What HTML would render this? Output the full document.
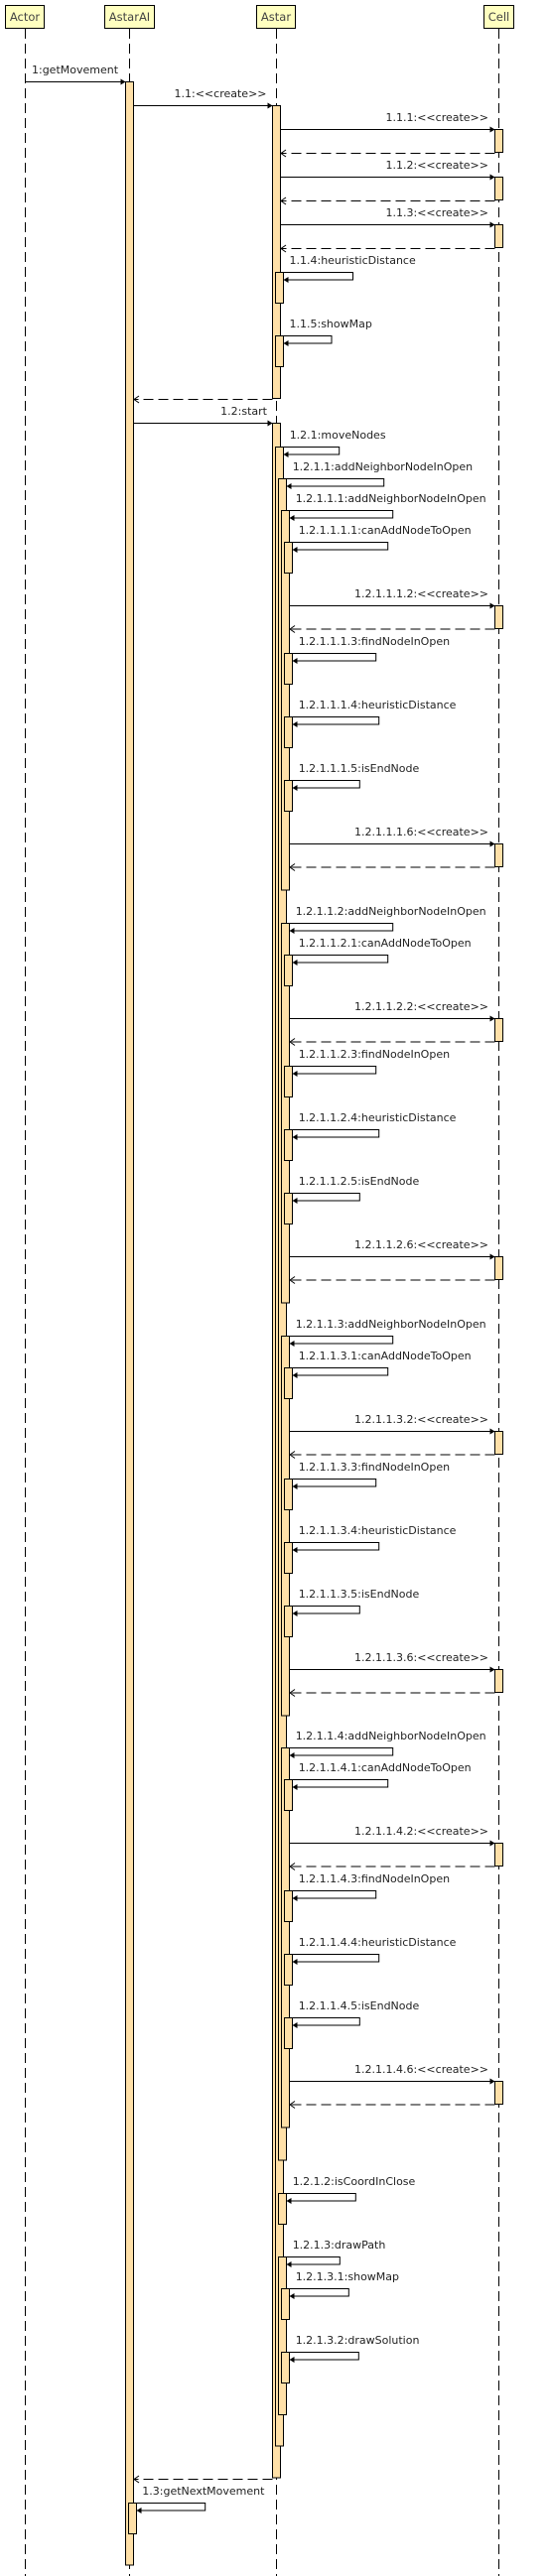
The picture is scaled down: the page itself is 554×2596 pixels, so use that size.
<!DOCTYPE html>
<html><head><meta charset="utf-8"><style>
html,body{margin:0;padding:0;background:#fff;}
svg{display:block;}
text{font-family:"DejaVu Sans","Liberation Sans",sans-serif;font-size:11px;fill:#222;}
.h{fill:#444;font-size:11.5px;}
.box{fill:#ffffc0;stroke:#000;stroke-width:1;}
.act{fill:#ffe0a8;stroke:#000;stroke-width:1;}
.ll{stroke:#000;stroke-width:1;stroke-dasharray:10,5;fill:none;}
.m{stroke:#000;stroke-width:1;fill:none;}
.r{stroke:#000;stroke-width:1;fill:none;stroke-dasharray:10,5;}
.ah{fill:#000;}
.oh{stroke:#000;fill:none;stroke-width:1;}
</style></head><body>
<svg width="554" height="2596" viewBox="0 0 554 2596" xmlns="http://www.w3.org/2000/svg">
<!-- headers -->
<rect class="box" x="5.5" y="5.5" width="39" height="23"/><text class="h" x="25" y="21" text-anchor="middle">Actor</text>
<rect class="box" x="105.5" y="5.5" width="50" height="23"/><text class="h" x="130.5" y="21" text-anchor="middle">AstarAI</text>
<rect class="box" x="258.5" y="5.5" width="39" height="23"/><text class="h" x="278" y="21" text-anchor="middle">Astar</text>
<rect class="box" x="487.5" y="5.5" width="30" height="23"/><text class="h" x="502.5" y="21" text-anchor="middle">Cell</text>
<!-- lifelines -->
<line class="ll" x1="25.5" y1="29" x2="25.5" y2="2596"/>
<line class="ll" x1="130.5" y1="29" x2="130.5" y2="2596"/>
<line class="ll" x1="278.5" y1="29" x2="278.5" y2="2596"/>
<line class="ll" x1="502.5" y1="29" x2="502.5" y2="2596"/>

<!-- activations -->
<rect class="act" x="126.5" y="82.5" width="8" height="2502.5"/>
<rect class="act" x="129.5" y="2522.5" width="8" height="31"/>
<rect class="act" x="274.5" y="106.5" width="8" height="295"/>
<rect class="act" x="277.5" y="274.5" width="8" height="31"/>
<rect class="act" x="277.5" y="338.5" width="8" height="31"/>
<rect class="act" x="498.5" y="130.5" width="8" height="23"/>
<rect class="act" x="498.5" y="178.5" width="8" height="23"/>
<rect class="act" x="498.5" y="226.5" width="8" height="23"/>
<rect class="act" x="274.5" y="426.5" width="8" height="2070.5"/>
<rect class="act" x="277.5" y="450.5" width="8" height="2014.5"/>
<rect class="act" x="280.5" y="482.5" width="8" height="1694.5"/>
<!-- block 1 -->
<rect class="act" x="283.5" y="514.5" width="8" height="382.5"/>
<rect class="act" x="286.5" y="546.5" width="8" height="31"/>
<rect class="act" x="498.5" y="610.5" width="8" height="23"/>
<rect class="act" x="286.5" y="658.5" width="8" height="31"/>
<rect class="act" x="286.5" y="722.5" width="8" height="31"/>
<rect class="act" x="286.5" y="786.5" width="8" height="31"/>
<rect class="act" x="498.5" y="850.5" width="8" height="23"/>
<!-- block 2 -->
<rect class="act" x="283.5" y="930.5" width="8" height="382.5"/>
<rect class="act" x="286.5" y="962.5" width="8" height="31"/>
<rect class="act" x="498.5" y="1026.5" width="8" height="23"/>
<rect class="act" x="286.5" y="1074.5" width="8" height="31"/>
<rect class="act" x="286.5" y="1138.5" width="8" height="31"/>
<rect class="act" x="286.5" y="1202.5" width="8" height="31"/>
<rect class="act" x="498.5" y="1266.5" width="8" height="23"/>
<!-- block 3 -->
<rect class="act" x="283.5" y="1346.5" width="8" height="382.5"/>
<rect class="act" x="286.5" y="1378.5" width="8" height="31"/>
<rect class="act" x="498.5" y="1442.5" width="8" height="23"/>
<rect class="act" x="286.5" y="1490.5" width="8" height="31"/>
<rect class="act" x="286.5" y="1554.5" width="8" height="31"/>
<rect class="act" x="286.5" y="1618.5" width="8" height="31"/>
<rect class="act" x="498.5" y="1682.5" width="8" height="23"/>
<!-- block 4 -->
<rect class="act" x="283.5" y="1761.5" width="8" height="382.5"/>
<rect class="act" x="286.5" y="1793.5" width="8" height="31"/>
<rect class="act" x="498.5" y="1857.5" width="8" height="23"/>
<rect class="act" x="286.5" y="1905.5" width="8" height="31"/>
<rect class="act" x="286.5" y="1969.5" width="8" height="31"/>
<rect class="act" x="286.5" y="2033.5" width="8" height="31"/>
<rect class="act" x="498.5" y="2097.5" width="8" height="23"/>
<!-- tail -->
<rect class="act" x="280.5" y="2210.5" width="8" height="31"/>
<rect class="act" x="280.5" y="2274.5" width="8" height="159"/>
<rect class="act" x="283.5" y="2306.5" width="8" height="31"/>
<rect class="act" x="283.5" y="2370.5" width="8" height="31"/>

<!-- messages -->
<line class="m" x1="25.5" y1="82.5" x2="126.5" y2="82.5"/><polygon class="ah" points="126.5,82.5 121.5,79.5 121.5,85.5"/>
<text x="32" y="74">1:getMovement</text>
<line class="m" x1="134.5" y1="106.5" x2="274.5" y2="106.5"/><polygon class="ah" points="274.5,106.5 269.5,103.5 269.5,109.5"/>
<text x="268.5" y="98" text-anchor="end">1.1:&lt;&lt;create&gt;&gt;</text>

<g>
<line class="m" x1="282.5" y1="130.5" x2="498.5" y2="130.5"/><polygon class="ah" points="498.5,130.5 493.5,127.5 493.5,133.5"/>
<text x="492" y="122" text-anchor="end">1.1.1:&lt;&lt;create&gt;&gt;</text>
<line class="r" x1="498.5" y1="154.5" x2="283" y2="154.5"/><polyline class="oh" points="288,151 283,154.5 288,158"/>
<line class="m" x1="282.5" y1="178.5" x2="498.5" y2="178.5"/><polygon class="ah" points="498.5,178.5 493.5,175.5 493.5,181.5"/>
<text x="492" y="170" text-anchor="end">1.1.2:&lt;&lt;create&gt;&gt;</text>
<line class="r" x1="498.5" y1="202.5" x2="283" y2="202.5"/><polyline class="oh" points="288,199 283,202.5 288,206"/>
<line class="m" x1="282.5" y1="226.5" x2="498.5" y2="226.5"/><polygon class="ah" points="498.5,226.5 493.5,223.5 493.5,229.5"/>
<text x="492" y="218" text-anchor="end">1.1.3:&lt;&lt;create&gt;&gt;</text>
<line class="r" x1="498.5" y1="250.5" x2="283" y2="250.5"/><polyline class="oh" points="288,247 283,250.5 288,254"/>
</g>

<polyline class="m" points="282.5,274.5 355.5,274.5 355.5,282 285.5,282"/><polygon class="ah" points="285.5,282 290.5,279 290.5,285"/>
<text x="291.5" y="266">1.1.4:heuristicDistance</text>
<polyline class="m" points="282.5,338.5 334,338.5 334,346 285.5,346"/><polygon class="ah" points="285.5,346 290.5,343 290.5,349"/>
<text x="291.5" y="330">1.1.5:showMap</text>

<line class="r" x1="274.5" y1="402.5" x2="135" y2="402.5"/><polyline class="oh" points="140,399 135,402.5 140,406"/>
<line class="m" x1="134.5" y1="426.5" x2="274.5" y2="426.5"/><polygon class="ah" points="274.5,426.5 269.5,423.5 269.5,429.5"/>
<text x="269" y="418" text-anchor="end">1.2:start</text>

<polyline class="m" points="282.5,450.5 341.7,450.5 341.7,458 285.5,458"/><polygon class="ah" points="285.5,458 290.5,455 290.5,461"/>
<text x="291.7" y="442">1.2.1:moveNodes</text>
<polyline class="m" points="285.5,482.5 386.7,482.5 386.7,490 288.5,490"/><polygon class="ah" points="288.5,490 293.5,487 293.5,493"/>
<text x="294.7" y="474">1.2.1.1:addNeighborNodeInOpen</text>

<!-- block 1 T=514.5 -->
<g>
<polyline class="m" points="288.5,514.5 395.7,514.5 395.7,522 291.5,522"/><polygon class="ah" points="291.5,522 296.5,519 296.5,525"/>
<text x="297.7" y="506">1.2.1.1.1:addNeighborNodeInOpen</text>
<polyline class="m" points="291.5,546.5 390.7,546.5 390.7,554 294.5,554"/><polygon class="ah" points="294.5,554 299.5,551 299.5,557"/>
<text x="300.7" y="538">1.2.1.1.1.1:canAddNodeToOpen</text>
<line class="m" x1="291.5" y1="610.5" x2="498.5" y2="610.5"/><polygon class="ah" points="498.5,610.5 493.5,607.5 493.5,613.5"/>
<text x="492" y="602" text-anchor="end">1.2.1.1.1.2:&lt;&lt;create&gt;&gt;</text>
<line class="r" x1="498.5" y1="634" x2="292" y2="634"/><polyline class="oh" points="297,630.5 292,634 297,637.5"/>
<polyline class="m" points="291.5,658.5 378.7,658.5 378.7,666 294.5,666"/><polygon class="ah" points="294.5,666 299.5,663 299.5,669"/>
<text x="300.7" y="650">1.2.1.1.1.3:findNodeInOpen</text>
<polyline class="m" points="291.5,722.5 381.7,722.5 381.7,730 294.5,730"/><polygon class="ah" points="294.5,730 299.5,727 299.5,733"/>
<text x="300.7" y="714">1.2.1.1.1.4:heuristicDistance</text>
<polyline class="m" points="291.5,786.5 362.3,786.5 362.3,794 294.5,794"/><polygon class="ah" points="294.5,794 299.5,791 299.5,797"/>
<text x="300.7" y="778">1.2.1.1.1.5:isEndNode</text>
<line class="m" x1="291.5" y1="850.5" x2="498.5" y2="850.5"/><polygon class="ah" points="498.5,850.5 493.5,847.5 493.5,853.5"/>
<text x="492" y="842" text-anchor="end">1.2.1.1.1.6:&lt;&lt;create&gt;&gt;</text>
<line class="r" x1="498.5" y1="874" x2="292" y2="874"/><polyline class="oh" points="297,870.5 292,874 297,877.5"/>
</g>

<!-- block 2 T=930.5 -->
<g transform="translate(0,416)">
<polyline class="m" points="288.5,514.5 395.7,514.5 395.7,522 291.5,522"/><polygon class="ah" points="291.5,522 296.5,519 296.5,525"/>
<text x="297.7" y="506">1.2.1.1.2:addNeighborNodeInOpen</text>
<polyline class="m" points="291.5,546.5 390.7,546.5 390.7,554 294.5,554"/><polygon class="ah" points="294.5,554 299.5,551 299.5,557"/>
<text x="300.7" y="538">1.2.1.1.2.1:canAddNodeToOpen</text>
<line class="m" x1="291.5" y1="610.5" x2="498.5" y2="610.5"/><polygon class="ah" points="498.5,610.5 493.5,607.5 493.5,613.5"/>
<text x="492" y="602" text-anchor="end">1.2.1.1.2.2:&lt;&lt;create&gt;&gt;</text>
<line class="r" x1="498.5" y1="634" x2="292" y2="634"/><polyline class="oh" points="297,630.5 292,634 297,637.5"/>
<polyline class="m" points="291.5,658.5 378.7,658.5 378.7,666 294.5,666"/><polygon class="ah" points="294.5,666 299.5,663 299.5,669"/>
<text x="300.7" y="650">1.2.1.1.2.3:findNodeInOpen</text>
<polyline class="m" points="291.5,722.5 381.7,722.5 381.7,730 294.5,730"/><polygon class="ah" points="294.5,730 299.5,727 299.5,733"/>
<text x="300.7" y="714">1.2.1.1.2.4:heuristicDistance</text>
<polyline class="m" points="291.5,786.5 362.3,786.5 362.3,794 294.5,794"/><polygon class="ah" points="294.5,794 299.5,791 299.5,797"/>
<text x="300.7" y="778">1.2.1.1.2.5:isEndNode</text>
<line class="m" x1="291.5" y1="850.5" x2="498.5" y2="850.5"/><polygon class="ah" points="498.5,850.5 493.5,847.5 493.5,853.5"/>
<text x="492" y="842" text-anchor="end">1.2.1.1.2.6:&lt;&lt;create&gt;&gt;</text>
<line class="r" x1="498.5" y1="874" x2="292" y2="874"/><polyline class="oh" points="297,870.5 292,874 297,877.5"/>
</g>

<!-- block 3 T=1346.5 -->
<g transform="translate(0,832)">
<polyline class="m" points="288.5,514.5 395.7,514.5 395.7,522 291.5,522"/><polygon class="ah" points="291.5,522 296.5,519 296.5,525"/>
<text x="297.7" y="506">1.2.1.1.3:addNeighborNodeInOpen</text>
<polyline class="m" points="291.5,546.5 390.7,546.5 390.7,554 294.5,554"/><polygon class="ah" points="294.5,554 299.5,551 299.5,557"/>
<text x="300.7" y="538">1.2.1.1.3.1:canAddNodeToOpen</text>
<line class="m" x1="291.5" y1="610.5" x2="498.5" y2="610.5"/><polygon class="ah" points="498.5,610.5 493.5,607.5 493.5,613.5"/>
<text x="492" y="602" text-anchor="end">1.2.1.1.3.2:&lt;&lt;create&gt;&gt;</text>
<line class="r" x1="498.5" y1="634" x2="292" y2="634"/><polyline class="oh" points="297,630.5 292,634 297,637.5"/>
<polyline class="m" points="291.5,658.5 378.7,658.5 378.7,666 294.5,666"/><polygon class="ah" points="294.5,666 299.5,663 299.5,669"/>
<text x="300.7" y="650">1.2.1.1.3.3:findNodeInOpen</text>
<polyline class="m" points="291.5,722.5 381.7,722.5 381.7,730 294.5,730"/><polygon class="ah" points="294.5,730 299.5,727 299.5,733"/>
<text x="300.7" y="714">1.2.1.1.3.4:heuristicDistance</text>
<polyline class="m" points="291.5,786.5 362.3,786.5 362.3,794 294.5,794"/><polygon class="ah" points="294.5,794 299.5,791 299.5,797"/>
<text x="300.7" y="778">1.2.1.1.3.5:isEndNode</text>
<line class="m" x1="291.5" y1="850.5" x2="498.5" y2="850.5"/><polygon class="ah" points="498.5,850.5 493.5,847.5 493.5,853.5"/>
<text x="492" y="842" text-anchor="end">1.2.1.1.3.6:&lt;&lt;create&gt;&gt;</text>
<line class="r" x1="498.5" y1="874" x2="292" y2="874"/><polyline class="oh" points="297,870.5 292,874 297,877.5"/>
</g>

<!-- block 4 T=1761.5 -->
<g transform="translate(0,1247)">
<polyline class="m" points="288.5,514.5 395.7,514.5 395.7,522 291.5,522"/><polygon class="ah" points="291.5,522 296.5,519 296.5,525"/>
<text x="297.7" y="506">1.2.1.1.4:addNeighborNodeInOpen</text>
<polyline class="m" points="291.5,546.5 390.7,546.5 390.7,554 294.5,554"/><polygon class="ah" points="294.5,554 299.5,551 299.5,557"/>
<text x="300.7" y="538">1.2.1.1.4.1:canAddNodeToOpen</text>
<line class="m" x1="291.5" y1="610.5" x2="498.5" y2="610.5"/><polygon class="ah" points="498.5,610.5 493.5,607.5 493.5,613.5"/>
<text x="492" y="602" text-anchor="end">1.2.1.1.4.2:&lt;&lt;create&gt;&gt;</text>
<line class="r" x1="498.5" y1="634" x2="292" y2="634"/><polyline class="oh" points="297,630.5 292,634 297,637.5"/>
<polyline class="m" points="291.5,658.5 378.7,658.5 378.7,666 294.5,666"/><polygon class="ah" points="294.5,666 299.5,663 299.5,669"/>
<text x="300.7" y="650">1.2.1.1.4.3:findNodeInOpen</text>
<polyline class="m" points="291.5,722.5 381.7,722.5 381.7,730 294.5,730"/><polygon class="ah" points="294.5,730 299.5,727 299.5,733"/>
<text x="300.7" y="714">1.2.1.1.4.4:heuristicDistance</text>
<polyline class="m" points="291.5,786.5 362.3,786.5 362.3,794 294.5,794"/><polygon class="ah" points="294.5,794 299.5,791 299.5,797"/>
<text x="300.7" y="778">1.2.1.1.4.5:isEndNode</text>
<line class="m" x1="291.5" y1="850.5" x2="498.5" y2="850.5"/><polygon class="ah" points="498.5,850.5 493.5,847.5 493.5,853.5"/>
<text x="492" y="842" text-anchor="end">1.2.1.1.4.6:&lt;&lt;create&gt;&gt;</text>
<line class="r" x1="498.5" y1="874" x2="292" y2="874"/><polyline class="oh" points="297,870.5 292,874 297,877.5"/>
</g>

<!-- tail messages -->
<polyline class="m" points="285.5,2210.5 358.3,2210.5 358.3,2218 288.5,2218"/><polygon class="ah" points="288.5,2218 293.5,2215 293.5,2221"/>
<text x="294.7" y="2202">1.2.1.2:isCoordInClose</text>
<polyline class="m" points="285.5,2274.5 342.3,2274.5 342.3,2282 288.5,2282"/><polygon class="ah" points="288.5,2282 293.5,2279 293.5,2285"/>
<text x="294.7" y="2266">1.2.1.3:drawPath</text>
<polyline class="m" points="288.5,2306.5 351.3,2306.5 351.3,2314 291.5,2314"/><polygon class="ah" points="291.5,2314 296.5,2311 296.5,2317"/>
<text x="297.7" y="2298">1.2.1.3.1:showMap</text>
<polyline class="m" points="288.5,2370.5 361.3,2370.5 361.3,2378 291.5,2378"/><polygon class="ah" points="291.5,2378 296.5,2375 296.5,2381"/>
<text x="297.7" y="2362">1.2.1.3.2:drawSolution</text>

<line class="r" x1="274.5" y1="2498.5" x2="135" y2="2498.5"/><polyline class="oh" points="140,2495 135,2498.5 140,2502"/>
<polyline class="m" points="134.5,2522.5 206.7,2522.5 206.7,2530 137.5,2530"/><polygon class="ah" points="137.5,2530 142.5,2527 142.5,2533"/>
<text x="143.3" y="2514">1.3:getNextMovement</text>
</svg>
</body></html>
